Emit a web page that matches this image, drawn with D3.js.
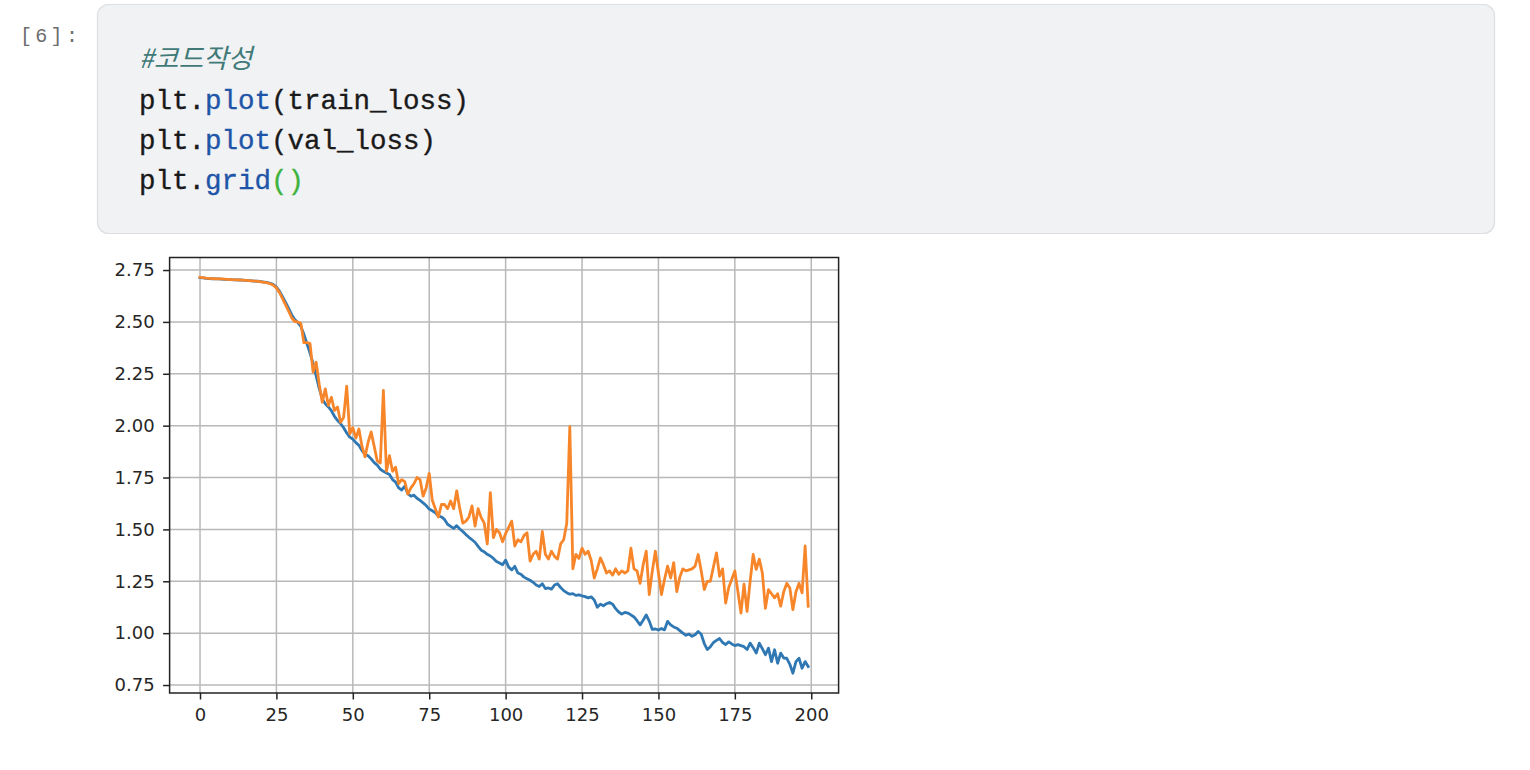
<!DOCTYPE html>
<html>
<head>
<meta charset="utf-8">
<script src="https://cdn.jsdelivr.net/npm/d3@7"></script>
<style>
  html, body { margin: 0; padding: 0; background: #ffffff; }
  svg { display: block; }
</style>
</head>
<body>
<svg id="page" width="1530" height="770"></svg>
<script>
// ---------------- data ----------------
const promptLabel = "[6]:";
const commentLine = "#코드작성";
const codeLines = [
  [["plt.", "plain"], ["plot", "fn"], ["(train_loss)", "plain"]],
  [["plt.", "plain"], ["plot", "fn"], ["(val_loss)", "plain"]],
  [["plt.", "plain"], ["grid", "fn"], ["()", "bracket"]]
];

const xTicks = [0, 25, 50, 75, 100, 125, 150, 175, 200];
const yTicks = [0.75, 1.00, 1.25, 1.50, 1.75, 2.00, 2.25, 2.50, 2.75];

const trainLoss = [
  2.713, 2.712, 2.710, 2.709, 2.708, 2.707, 2.707, 2.706, 2.705, 2.705,
  2.704, 2.703, 2.703, 2.702, 2.701, 2.700, 2.699, 2.698, 2.697, 2.696,
  2.694, 2.692, 2.690, 2.686, 2.680, 2.668, 2.648, 2.622, 2.594, 2.565,
  2.535, 2.512, 2.497, 2.478, 2.440, 2.395, 2.350, 2.300, 2.240, 2.180,
  2.130, 2.105, 2.090, 2.072, 2.045, 2.025, 2.010, 1.990, 1.965, 1.945,
  1.935, 1.918, 1.905, 1.880, 1.862, 1.855, 1.840, 1.822, 1.810, 1.790,
  1.780, 1.772, 1.765, 1.740, 1.728, 1.700, 1.690, 1.708, 1.672, 1.660,
  1.665, 1.650, 1.640, 1.628, 1.615, 1.598, 1.590, 1.580, 1.565, 1.560,
  1.548, 1.525, 1.515, 1.505, 1.518, 1.502, 1.490, 1.475, 1.462, 1.450,
  1.438, 1.418, 1.400, 1.392, 1.380, 1.372, 1.360, 1.345, 1.338, 1.330,
  1.352, 1.318, 1.305, 1.322, 1.290, 1.284, 1.270, 1.262, 1.255, 1.245,
  1.232, 1.225, 1.238, 1.215, 1.218, 1.212, 1.232, 1.238, 1.220, 1.205,
  1.195, 1.188, 1.190, 1.182, 1.185, 1.180, 1.176, 1.170, 1.175, 1.160,
  1.125, 1.140, 1.132, 1.142, 1.148, 1.140, 1.118, 1.102, 1.092, 1.100,
  1.097, 1.088, 1.078, 1.060, 1.040, 1.062, 1.088, 1.058, 1.018, 1.020,
  1.015, 1.022, 1.016, 1.057, 1.040, 1.030, 1.024, 1.012, 1.000, 0.990,
  0.995, 0.985, 0.992, 1.008, 0.995, 0.950, 0.921, 0.935, 0.955, 0.965,
  0.974, 0.955, 0.945, 0.958, 0.948, 0.940, 0.945, 0.940, 0.935, 0.921,
  0.952, 0.930, 0.904, 0.952, 0.925, 0.896, 0.928, 0.863, 0.920, 0.855,
  0.904, 0.880, 0.879, 0.850, 0.807, 0.863, 0.879, 0.831, 0.863, 0.839
];

const valLoss = [
  2.715, 2.713, 2.711, 2.710, 2.709, 2.708, 2.707, 2.707, 2.706, 2.705,
  2.704, 2.704, 2.703, 2.702, 2.701, 2.700, 2.699, 2.698, 2.697, 2.695,
  2.693, 2.691, 2.688, 2.684, 2.677, 2.664, 2.642, 2.612, 2.582, 2.552,
  2.520, 2.502, 2.500, 2.492, 2.400, 2.400, 2.395, 2.258, 2.306, 2.200,
  2.113, 2.177, 2.097, 2.137, 2.073, 2.090, 2.016, 2.040, 2.190, 1.960,
  1.990, 1.940, 1.984, 1.900, 1.850, 1.920, 1.970, 1.900, 1.830, 1.820,
  2.170, 1.780, 1.855, 1.780, 1.800, 1.720, 1.740, 1.730, 1.670, 1.700,
  1.720, 1.750, 1.740, 1.660, 1.700, 1.770, 1.640, 1.600, 1.560, 1.620,
  1.620, 1.600, 1.637, 1.600, 1.686, 1.600, 1.530, 1.540, 1.560, 1.613,
  1.516, 1.600, 1.557, 1.530, 1.430, 1.677, 1.460, 1.500, 1.484, 1.440,
  1.480, 1.510, 1.540, 1.420, 1.450, 1.440, 1.470, 1.484, 1.347, 1.380,
  1.395, 1.357, 1.490, 1.380, 1.357, 1.395, 1.370, 1.357, 1.430, 1.450,
  1.530, 1.995, 1.310, 1.380, 1.360, 1.410, 1.380, 1.395, 1.350, 1.266,
  1.310, 1.363, 1.330, 1.290, 1.300, 1.280, 1.310, 1.284, 1.300, 1.290,
  1.300, 1.410, 1.310, 1.300, 1.240, 1.330, 1.395, 1.186, 1.300, 1.395,
  1.290, 1.186, 1.260, 1.323, 1.266, 1.340, 1.200, 1.270, 1.310, 1.300,
  1.305, 1.310, 1.323, 1.379, 1.300, 1.210, 1.250, 1.250, 1.320, 1.387,
  1.274, 1.310, 1.145, 1.220, 1.260, 1.300, 1.200, 1.097, 1.236, 1.105,
  1.250, 1.379, 1.307, 1.357, 1.290, 1.120, 1.210, 1.190, 1.170, 1.190,
  1.130, 1.200, 1.240, 1.218, 1.113, 1.200, 1.240, 1.194, 1.420, 1.130
];

// ---------------- page ----------------
const svg = d3.select("#page");

// notebook prompt
svg.append("text")
  .attr("x", 20).attr("y", 42)
  .attr("font-family", "Liberation Mono, DejaVu Sans Mono, monospace")
  .attr("font-size", 20).attr("letter-spacing", 3.3)
  .attr("fill", "#6e6e6e")
  .text(promptLabel);

// code cell box
svg.append("rect")
  .attr("x", 97.5).attr("y", 4.5).attr("width", 1397).attr("height", 229)
  .attr("rx", 11).attr("ry", 11)
  .attr("fill", "#f1f2f4").attr("stroke", "#dcdee2").attr("stroke-width", 1.2);

const codeFont = "Liberation Mono, DejaVu Sans Mono, monospace";
const colours = { plain: "#1a1a1a", fn: "#1f55a8", bracket: "#3db33d" };

svg.append("text")
  .attr("x", 139).attr("y", 68)
  .attr("font-family", "Noto Sans CJK KR, sans-serif")
  .attr("font-size", 26.8).attr("font-style", "italic")
  .attr("fill", "#3f7a78")
  .text(commentLine);

const lineBase = [109, 149, 189];
codeLines.forEach((parts, li) => {
  const t = svg.append("text")
    .attr("x", 139).attr("y", lineBase[li])
    .attr("font-family", codeFont).attr("font-size", 27.5)
    .attr("stroke-width", 0.35)
    .attr("xml:space", "preserve");
  parts.forEach(([s, kind]) => {
    t.append("tspan").attr("fill", colours[kind]).attr("stroke", colours[kind]).text(s);
  });
});

// ---------------- chart ----------------
const box = { left: 169.6, right: 838.6, top: 257.5, bottom: 693 };
const n = trainLoss.length;
const xPad = (n - 1) * 0.05;
const x = d3.scaleLinear().domain([-xPad, n - 1 + xPad]).range([box.left, box.right]);
const allVals = trainLoss.concat(valLoss);
const yMin = d3.min(allVals), yMax = d3.max(allVals);
const yPad = (yMax - yMin) * 0.05;
const y = d3.scaleLinear().domain([yMin - yPad, yMax + yPad]).range([box.bottom, box.top]);

const g = svg.append("g");
const gridColour = "#b8b8b8";
const gridW = 1.5;

// grid
g.append("g").selectAll("line").data(xTicks).join("line")
  .attr("x1", d => x(d)).attr("x2", d => x(d))
  .attr("y1", box.top).attr("y2", box.bottom)
  .attr("stroke", gridColour).attr("stroke-width", gridW);
g.append("g").selectAll("line").data(yTicks).join("line")
  .attr("x1", box.left).attr("x2", box.right)
  .attr("y1", d => y(d)).attr("y2", d => y(d))
  .attr("stroke", gridColour).attr("stroke-width", gridW);

// lines
const line = d3.line().x((d, i) => x(i)).y(d => y(d));
g.append("path").datum(trainLoss).attr("d", line)
  .attr("fill", "none").attr("stroke", "#2f78b3").attr("stroke-width", 2.8)
  .attr("stroke-linejoin", "round").attr("stroke-linecap", "square");
g.append("path").datum(valLoss).attr("d", line)
  .attr("fill", "none").attr("stroke", "#f7862a").attr("stroke-width", 2.8)
  .attr("stroke-linejoin", "round").attr("stroke-linecap", "square");

// axes
const tickFont = "DejaVu Sans, sans-serif";
const xAxis = d3.axisBottom(x).tickValues(xTicks).tickSize(6.5).tickPadding(9)
  .tickFormat(d3.format("d"));
const yAxis = d3.axisLeft(y).tickValues(yTicks).tickSize(6.5).tickPadding(8.5)
  .tickFormat(d3.format(".2f"));

const gx = g.append("g").attr("transform", `translate(0,${box.bottom})`).call(xAxis);
const gy = g.append("g").attr("transform", `translate(${box.left},0)`).call(yAxis);
[gx, gy].forEach(a => {
  a.select(".domain").remove();
  a.selectAll(".tick line").attr("stroke", "#222").attr("stroke-width", 1.5);
  a.selectAll(".tick text").attr("font-family", tickFont).attr("font-size", 18)
    .attr("fill", "#262626");
});

// spines
g.append("rect")
  .attr("x", box.left).attr("y", box.top)
  .attr("width", box.right - box.left).attr("height", box.bottom - box.top)
  .attr("fill", "none").attr("stroke", "#222").attr("stroke-width", 1.5);
</script>
</body>
</html>
